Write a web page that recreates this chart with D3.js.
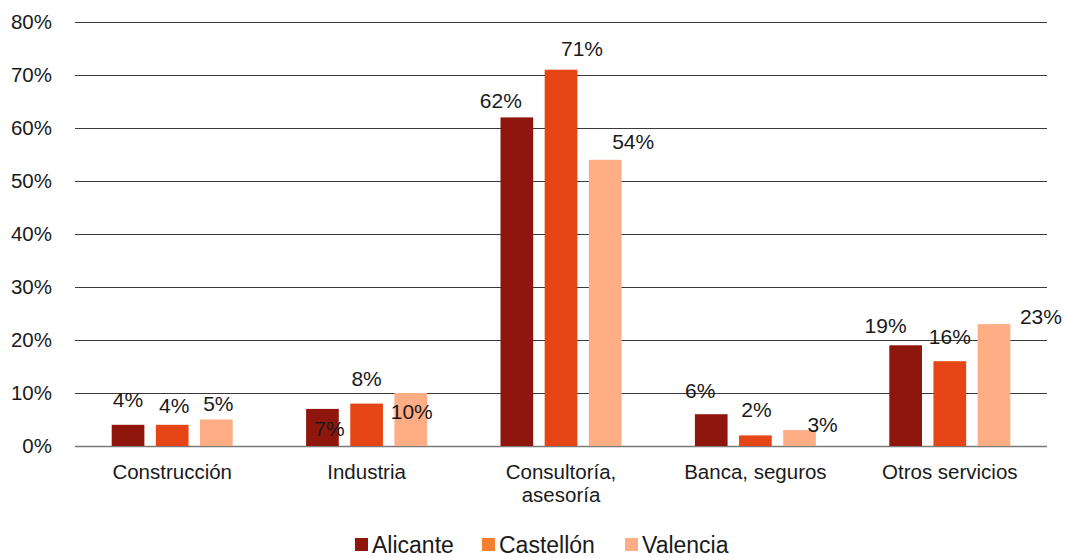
<!DOCTYPE html>
<html><head><meta charset="utf-8">
<script src="https://cdn.jsdelivr.net/npm/d3@7"></script>
<style>body{margin:0;background:#fff;} text{font-family:"Liberation Sans",Arial,sans-serif;fill:#1a1a1a;}</style>
</head><body>
<svg id="c" width="1065" height="558"></svg>
<script>
const categories = [["Construcción"],["Industria"],["Consultoría,","asesoría"],["Banca, seguros"],["Otros servicios"]];
const seriesNames = ["Alicante","Castellón","Valencia"];
const alicante = [4,7,62,6,19];
const castellon = [4,8,71,2,16];
const valencia = [5,10,54,3,23];
const yTicks = [0,10,20,30,40,50,60,70,80];
// label nudges (layout only): [dx, dy] of label baseline relative to bar top-centre
const labelNudge = [
  [[0,-18],[7,27],[-16,-9],[-11,-16],[-20,-12]],
  [[2,-12],[0,-18],[21,-14],[1,-18],[0,-17]],
  [[2,-9],[1,26],[28,-11],[23,2],[47,0]]
];
const barColors = ["#8F160C","#E64516","#FFAD85"];
const legendColors = ["#8F160C","#F47F30","#FFAD85"];

const svg = d3.select("#c");
const m = {l:75, r:1047, t:22, b:446};
const x0 = d3.scaleBand().domain(d3.range(categories.length)).range([m.l,m.r]).paddingInner(0).paddingOuter(0);
const x1 = d3.scaleBand().domain(d3.range(3)).range([0, 121]).paddingInner(0.26).paddingOuter(0);
const y = d3.scaleLinear().domain([0,80]).range([m.b,m.t]);

// grid
svg.append("g").selectAll("line").data(yTicks).join("line")
  .attr("x1",m.l).attr("x2",m.r)
  .attr("y1",d=>y(d)+0.5).attr("y2",d=>y(d)+0.5)
  .attr("stroke",d=>d===0?"#7a7a7a":"#3a3a3a").attr("stroke-width",d=>d===0?1.5:1);

// y labels
svg.append("g").selectAll("text").data(yTicks).join("text")
  .attr("x",52).attr("y",d=>y(d)+6.5).attr("text-anchor","end")
  .style("font-size","20.5px").text(d=>d+"%");

const series = [alicante, castellon, valencia];
series.forEach((vals, s) => {
  const g = svg.append("g");
  const off = x0.bandwidth()/2 - 60.5;
  g.selectAll("rect").data(vals).join("rect")
    .attr("x",(d,i)=>x0(i)+off+x1(s)).attr("width",x1.bandwidth())
    .attr("y",d=>y(d)).attr("height",d=>y(0)-y(d))
    .attr("fill",barColors[s]);
  g.selectAll("text").data(vals).join("text")
    .attr("x",(d,i)=>x0(i)+off+x1(s)+x1.bandwidth()/2+labelNudge[s][i][0])
    .attr("y",(d,i)=>y(d)+labelNudge[s][i][1])
    .attr("text-anchor","middle").style("font-size","21px")
    .text(d=>d+"%");
});

// category labels
const cg = svg.append("g");
categories.forEach((lines,i)=>{
  const t = cg.append("text").attr("x",x0(i)+x0.bandwidth()/2).attr("y",479)
    .attr("text-anchor","middle").style("font-size","20.5px");
  lines.forEach((ln,k)=>t.append("tspan").attr("x",x0(i)+x0.bandwidth()/2).attr("dy",k?23:0).text(ln));
});

// legend
const legX = [355,482,625];
const lg = svg.append("g");
seriesNames.forEach((n,i)=>{
  lg.append("rect").attr("x",legX[i]).attr("y",538).attr("width",13).attr("height",13).attr("fill",legendColors[i]);
  lg.append("text").attr("x",legX[i]+17).attr("y",553).style("font-size","23px").text(n);
});
</script>
</body></html>
